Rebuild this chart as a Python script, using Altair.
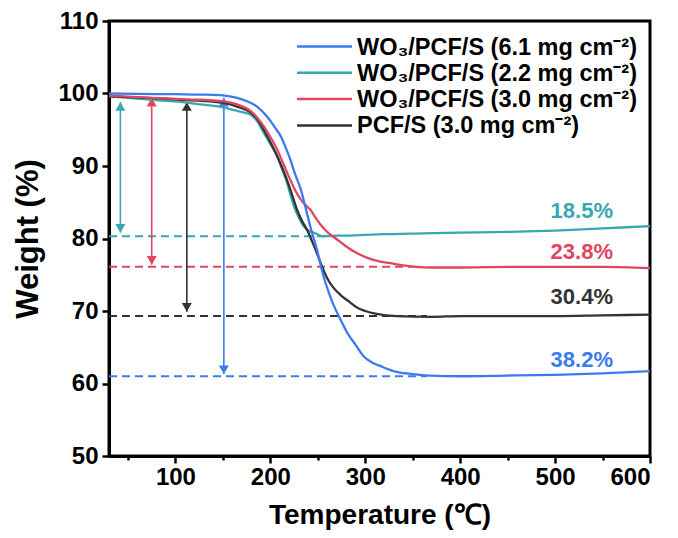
import altair as alt
import pandas as pd

# ---------------- data ----------------
series_names = [
    "WO₃/PCF/S (6.1 mg cm⁻²)",
    "WO₃/PCF/S (2.2 mg cm⁻²)",
    "WO₃/PCF/S (3.0 mg cm⁻²)",
    "PCF/S (3.0 mg cm⁻²)",
]
colors = ["#3B7BEF", "#36A8B1", "#E2455E", "#333333"]

blue_T = [30, 60, 100, 130, 150, 165, 176, 186, 196, 205, 211, 216, 221, 226, 232, 237, 242, 249,
          256, 262, 267, 274, 281, 290, 298, 307, 316, 333, 350, 368, 400, 450, 500, 550, 600]
blue_W = [100.0, 99.95, 99.9, 99.85, 99.75, 99.4, 98.9, 98.2, 96.9, 95.3, 94.1, 92.6, 90.9, 88.9,
          86.8, 84.3, 81.7, 78.5, 74.8, 72.4, 70.7, 68.8, 67.0, 65.3, 63.8, 62.9, 62.4, 61.6, 61.3,
          61.1, 61.0, 61.1, 61.2, 61.4, 61.7]

teal_T = [30, 60, 80, 100, 126, 150, 168, 179, 186, 193, 200, 207, 212, 217.5, 221, 225, 230, 235,
          240, 246, 256, 270, 281, 300, 320, 360, 400, 450, 500, 550, 600]
teal_W = [99.6, 99.3, 99.1, 98.9, 98.5, 98.1, 97.5, 97.1, 96.2, 94.6, 93.0, 91.4, 89.7, 87.7, 86.1,
          84.4, 82.9, 81.7, 81.1, 80.8, 80.3, 80.4, 80.4, 80.5, 80.6, 80.7, 80.8, 80.9, 81.1, 81.4, 81.7]

red_T = [30, 75, 112, 151, 165, 179, 186, 193, 200, 207, 214, 221, 226, 232, 237, 242, 247, 253,
         260, 270, 280, 291, 303, 316, 326, 340, 368, 400, 450, 500, 550, 600]
red_W = [99.7, 99.4, 99.2, 98.9, 98.5, 97.6, 96.7, 95.5, 94.0, 92.3, 90.2, 88.1, 86.7, 85.4, 84.6,
         84.0, 83.0, 81.9, 80.9, 79.9, 78.9, 78.0, 77.3, 76.8, 76.6, 76.3, 76.0, 76.0, 76.1, 76.1,
         76.1, 75.9]

black_T = [30, 70, 112, 151, 165, 179, 186, 193, 200, 207, 212, 217.5, 223, 228, 233, 238.6, 244,
           249, 254, 259.6, 266, 274, 284, 291, 300, 312, 333, 370, 400, 450, 500, 550, 600]
black_W = [99.6, 99.4, 99.1, 98.7, 98.2, 97.4, 96.5, 95.0, 93.3, 91.4, 89.9, 88.1, 86.0, 84.0, 82.5,
           81.2, 79.6, 78.0, 76.3, 74.6, 73.3, 72.2, 71.2, 70.5, 70.0, 69.6, 69.3, 69.2, 69.3, 69.3,
           69.3, 69.4, 69.5]

# residual-mass annotations (order: blue, teal, red, black)
res_level = [61.0, 80.3, 76.1, 69.3]
dash_end = [365, 268, 350, 365]
arrow_T = [151, 42, 75, 112]
arrow_top = [99.4, 98.8, 99.4, 98.8]
arrow_bottom = [61.3, 80.8, 76.4, 69.9]
loss_labels = ["38.2%", "18.5%", "23.8%", "30.4%"]
label_W = [63.3, 83.8, 78.1, 71.9]
label_T = [561, 561, 561, 561]

x_ticks = list(range(50, 601, 50))
y_ticks = list(range(50, 111, 5))

# ---------------- build ----------------
FONT = "Liberation Sans"
xs = alt.Scale(domain=[30, 600], nice=False, zero=False)
ys = alt.Scale(domain=[50, 110], nice=False, zero=False)
cs = alt.Scale(domain=series_names, range=colors)

x_axis = alt.Axis(
    title="Temperature (℃)", values=x_ticks,
    labelExpr="datum.value % 100 === 0 ? datum.label : ''",
    tickSize={"condition": {"test": "datum.value % 100 === 0", "value": 7}, "value": 4},
    labelPadding=2, titlePadding=12, titleFontSize=28, labelOverlap=False,
)
y_axis = alt.Axis(
    title="Weight (%)", values=y_ticks,
    labelExpr="datum.value % 10 === 0 ? datum.label : ''",
    tickSize={"condition": {"test": "datum.value % 10 === 0", "value": 7}, "value": 4},
    labelPadding=4, titlePadding=13, titleFontSize=31, labelOverlap=False,
)

curves = {
    series_names[0]: (blue_T, blue_W),
    series_names[1]: (teal_T, teal_W),
    series_names[2]: (red_T, red_W),
    series_names[3]: (black_T, black_W),
}

layers = []

# dashed residual lines
dash_df = pd.DataFrame({"T0": [30] * 4, "T1": dash_end, "W": res_level, "series": series_names})
layers.append(
    alt.Chart(dash_df).mark_rule(strokeDash=[8, 5], strokeWidth=2).encode(
        x=alt.X("T0:Q", scale=xs, axis=x_axis), x2="T1:Q",
        y=alt.Y("W:Q", scale=ys, axis=y_axis),
        color=alt.Color("series:N", scale=cs, legend=None),
    )
)

# arrows
arr_df = pd.DataFrame({"T": arrow_T, "top": arrow_top, "bottom": arrow_bottom, "series": series_names})
layers.append(
    alt.Chart(arr_df).mark_rule(strokeWidth=1.6).encode(
        x=alt.X("T:Q", scale=xs), y=alt.Y("top:Q", scale=ys), y2="bottom:Q",
        color=alt.Color("series:N", scale=cs, legend=None),
    )
)
layers.append(
    alt.Chart(arr_df).mark_point(shape="triangle-up", filled=True, size=100, opacity=1,
                                 yOffset=4.3).encode(
        x=alt.X("T:Q", scale=xs), y=alt.Y("top:Q", scale=ys),
        color=alt.Color("series:N", scale=cs, legend=None),
    )
)
layers.append(
    alt.Chart(arr_df).mark_point(shape="triangle-down", filled=True, size=100, opacity=1,
                                 yOffset=-4.3).encode(
        x=alt.X("T:Q", scale=xs), y=alt.Y("bottom:Q", scale=ys),
        color=alt.Color("series:N", scale=cs, legend=None),
    )
)

# curves (draw order: teal, black, red, blue on top)
for idx in [1, 3, 2, 0]:
    name = series_names[idx]
    T, W = curves[name]
    df = pd.DataFrame({"T": T, "W": W, "series": name})
    layers.append(
        alt.Chart(df).mark_line(strokeWidth=2.3, interpolate="monotone").encode(
            x=alt.X("T:Q", scale=xs), y=alt.Y("W:Q", scale=ys),
            color=alt.Color("series:N", scale=cs, legend=None),
        )
    )

# percentage labels
lab_df = pd.DataFrame({"T": label_T, "W": label_W, "txt": loss_labels, "series": series_names})
layers.append(
    alt.Chart(lab_df).mark_text(align="right", baseline="middle", fontSize=22, fontWeight="bold",
                                font=FONT).encode(
        x=alt.X("T:Q", scale=xs), y=alt.Y("W:Q", scale=ys), text="txt:N",
        color=alt.Color("series:N", scale=cs, legend=None),
    )
)

# manual legend
for i, name in enumerate(series_names):
    yy = 25.5 + 26.3 * i
    layers.append(
        alt.Chart().mark_rule(strokeWidth=2.5, color=colors[i]).encode(
            x=alt.value(188), x2=alt.value(243), y=alt.value(yy)
        )
    )
    layers.append(
        alt.Chart().mark_text(text=name, align="left", baseline="middle", fontSize=23.5,
                              fontWeight="bold", font=FONT, color="black").encode(
            x=alt.value(248), y=alt.value(yy + 1)
        )
    )

chart = alt.layer(*layers).properties(
    width=541, height=435,
    autosize=alt.AutoSizeParams(type="none"),
    padding={"left": 109, "top": 21, "right": 28, "bottom": 82},
    background="white",
).configure_view(
    stroke="black", strokeWidth=3
).configure_axis(
    domainColor="black", domainWidth=3, tickColor="black", tickWidth=2.5,
    labelFont=FONT, labelFontSize=24, labelFontWeight="bold", labelColor="black",
    titleFont=FONT, titleFontWeight="bold", titleColor="black",
    grid=False,
)

chart.save("out.html", embed_options={"renderer": "svg", "actions": False})
